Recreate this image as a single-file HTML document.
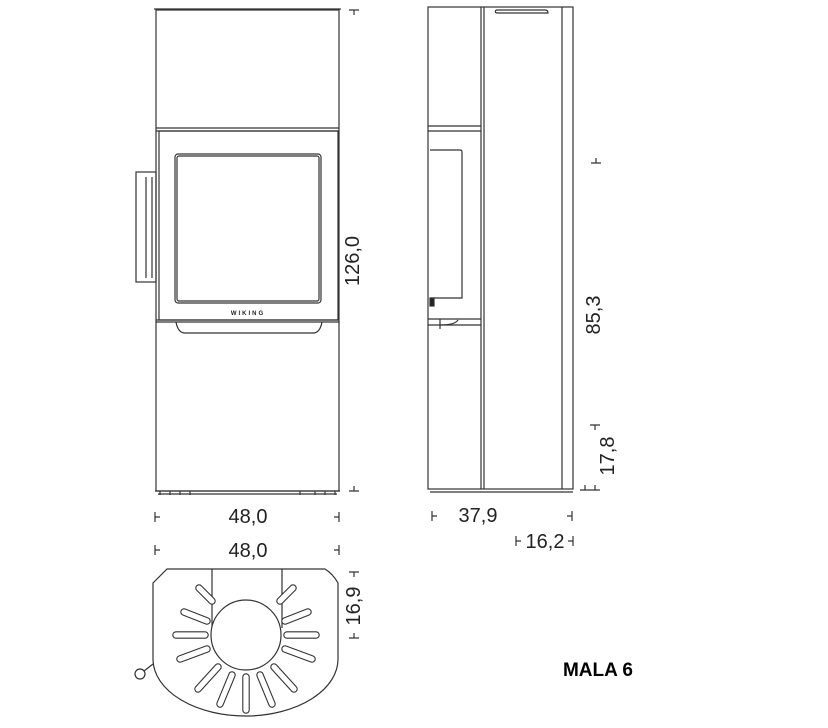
<!DOCTYPE html>
<html><head><meta charset="utf-8"><style>
html,body{margin:0;padding:0;background:#fff;}
svg{display:block;}
text{font-family:"Liberation Sans",sans-serif;fill:#222;}
</style></head><body>
<svg width="828" height="728" viewBox="0 0 828 728" xmlns="http://www.w3.org/2000/svg">
<g fill="none" stroke="#333" stroke-width="1.2">
<rect x="156" y="10" width="183" height="481"/>
<line x1="154" y1="9" x2="341" y2="9"/>
<line x1="156" y1="128" x2="339" y2="128"/>
<line x1="156" y1="131" x2="339" y2="131"/>
<rect x="159" y="131" width="179" height="189"/>
<rect x="175" y="154" width="146" height="149" rx="3"/>
<rect x="177" y="156" width="142" height="145" rx="2"/>
<line x1="156" y1="320" x2="339" y2="320"/>
<line x1="156" y1="322" x2="339" y2="322"/>
<path d="M176 322 Q178 333 185 333 L313 333 Q320 333 322 322"/>
<rect x="136" y="172" width="20" height="110"/>
<line x1="146" y1="177" x2="146" y2="278"/>
<line x1="152" y1="177" x2="152" y2="278"/>
<line x1="155" y1="491" x2="340" y2="491"/>
<line x1="158" y1="494" x2="337" y2="494"/>
<path d="M160 491 v4 M170 491 v4 M180 491 v4 M190 491 v4 M300 491 v4 M315 491 v4 M325 491 v4 M335 491 v4"/>
<path d="M349 10 h10 M354 10 v5 M349 491 h10 M354 491 v-5"/>
<path d="M155 512 v10 M155 517 h5 M339 512 v10 M339 517 h-5"/>
<path d="M155 545 v10 M155 550 h5 M339 545 v10 M339 550 h-5"/>

<rect x="428" y="7" width="145" height="482"/>
<line x1="481" y1="7" x2="481" y2="489"/>
<line x1="484" y1="7" x2="484" y2="489"/>
<line x1="562" y1="7" x2="562" y2="489"/>
<line x1="428" y1="126" x2="481" y2="126"/>
<line x1="428" y1="131" x2="481" y2="131"/>
<line x1="428" y1="319" x2="481" y2="319"/>
<line x1="428" y1="325" x2="481" y2="325"/>
<path d="M430 150 L460 150 Q462 150 462 152 L462 298 L430 298"/>
<path d="M440 319 v10 M440 325 Q455 325 458 320"/>
<path d="M496 10 L545 10 Q548 10 548 13 L498 13 Q494 13 496 10"/>
<line x1="430" y1="492" x2="573" y2="492"/>
<rect x="430" y="298" width="4" height="8" fill="#222"/>
<path d="M432 511 v10 M432 516 h5 M572 511 v10 M572 516 h-5"/>
<path d="M516 536 v10 M516 541 h5 M573 536 v10 M573 541 h-5"/>
<path d="M591 163 h10 M596 163 v-5"/>
<path d="M590 425 h10 M595 425 v5 M590 490 h10 M595 490 v-5 M580 490 h10 M585 490 v-5"/>

<path d="M167 569 L325 569 Q333 574 338 583 L338 658 A92.5 57 0 0 1 153 660 L153 583 Z"/>
<line x1="212" y1="569" x2="212" y2="628"/>
<line x1="282" y1="569" x2="282" y2="628"/>
<circle cx="246" cy="635" r="35" fill="#fff"/>
<circle cx="140" cy="674" r="5"/>
<line x1="144" y1="671" x2="153" y2="664"/>
<path d="M349 572 h10 M354 572 v5 M349 638 h10 M354 638 v-5"/>
</g>
<g stroke-linecap="round">
<g stroke="#333" stroke-width="7.5">
<line x1="246" y1="677" x2="246" y2="710"/>
<line x1="232" y1="675" x2="220" y2="704"/>
<line x1="260" y1="675" x2="272" y2="704"/>
<line x1="218" y1="667" x2="198" y2="689"/>
<line x1="274" y1="667" x2="294" y2="689"/>
<line x1="207" y1="649" x2="180" y2="659"/>
<line x1="285" y1="649" x2="312" y2="659"/>
<line x1="205" y1="635" x2="176" y2="635"/>
<line x1="287" y1="635" x2="316" y2="635"/>
<line x1="207" y1="621" x2="184" y2="612"/>
<line x1="285" y1="621" x2="308" y2="612"/>
<line x1="212" y1="601" x2="199" y2="588"/>
<line x1="280" y1="601" x2="293" y2="588"/>
</g>
<g stroke="#fff" stroke-width="5.3">
<line x1="246" y1="677" x2="246" y2="710"/>
<line x1="232" y1="675" x2="220" y2="704"/>
<line x1="260" y1="675" x2="272" y2="704"/>
<line x1="218" y1="667" x2="198" y2="689"/>
<line x1="274" y1="667" x2="294" y2="689"/>
<line x1="207" y1="649" x2="180" y2="659"/>
<line x1="285" y1="649" x2="312" y2="659"/>
<line x1="205" y1="635" x2="176" y2="635"/>
<line x1="287" y1="635" x2="316" y2="635"/>
<line x1="207" y1="621" x2="184" y2="612"/>
<line x1="285" y1="621" x2="308" y2="612"/>
<line x1="212" y1="601" x2="199" y2="588"/>
<line x1="280" y1="601" x2="293" y2="588"/>
</g>
</g>
<text x="248" y="315" font-size="6" font-weight="bold" text-anchor="middle" letter-spacing="2">WIKING</text>
<text x="248" y="523" font-size="20" text-anchor="middle">48,0</text>
<text x="248" y="557" font-size="20" text-anchor="middle">48,0</text>
<text x="478" y="522" font-size="20" text-anchor="middle">37,9</text>
<text x="545" y="548" font-size="20" text-anchor="middle">16,2</text>
<text transform="translate(359,261) rotate(-90)" font-size="20" text-anchor="middle">126,0</text>
<text transform="translate(600,315) rotate(-90)" font-size="20" text-anchor="middle">85,3</text>
<text transform="translate(614,456) rotate(-90)" font-size="20" text-anchor="middle">17,8</text>
<text transform="translate(360,606) rotate(-90)" font-size="20" text-anchor="middle">16,9</text>
<text x="598" y="676" font-size="19" font-weight="bold" text-anchor="middle" style="fill:#000">MALA 6</text>
</svg>
</body></html>
